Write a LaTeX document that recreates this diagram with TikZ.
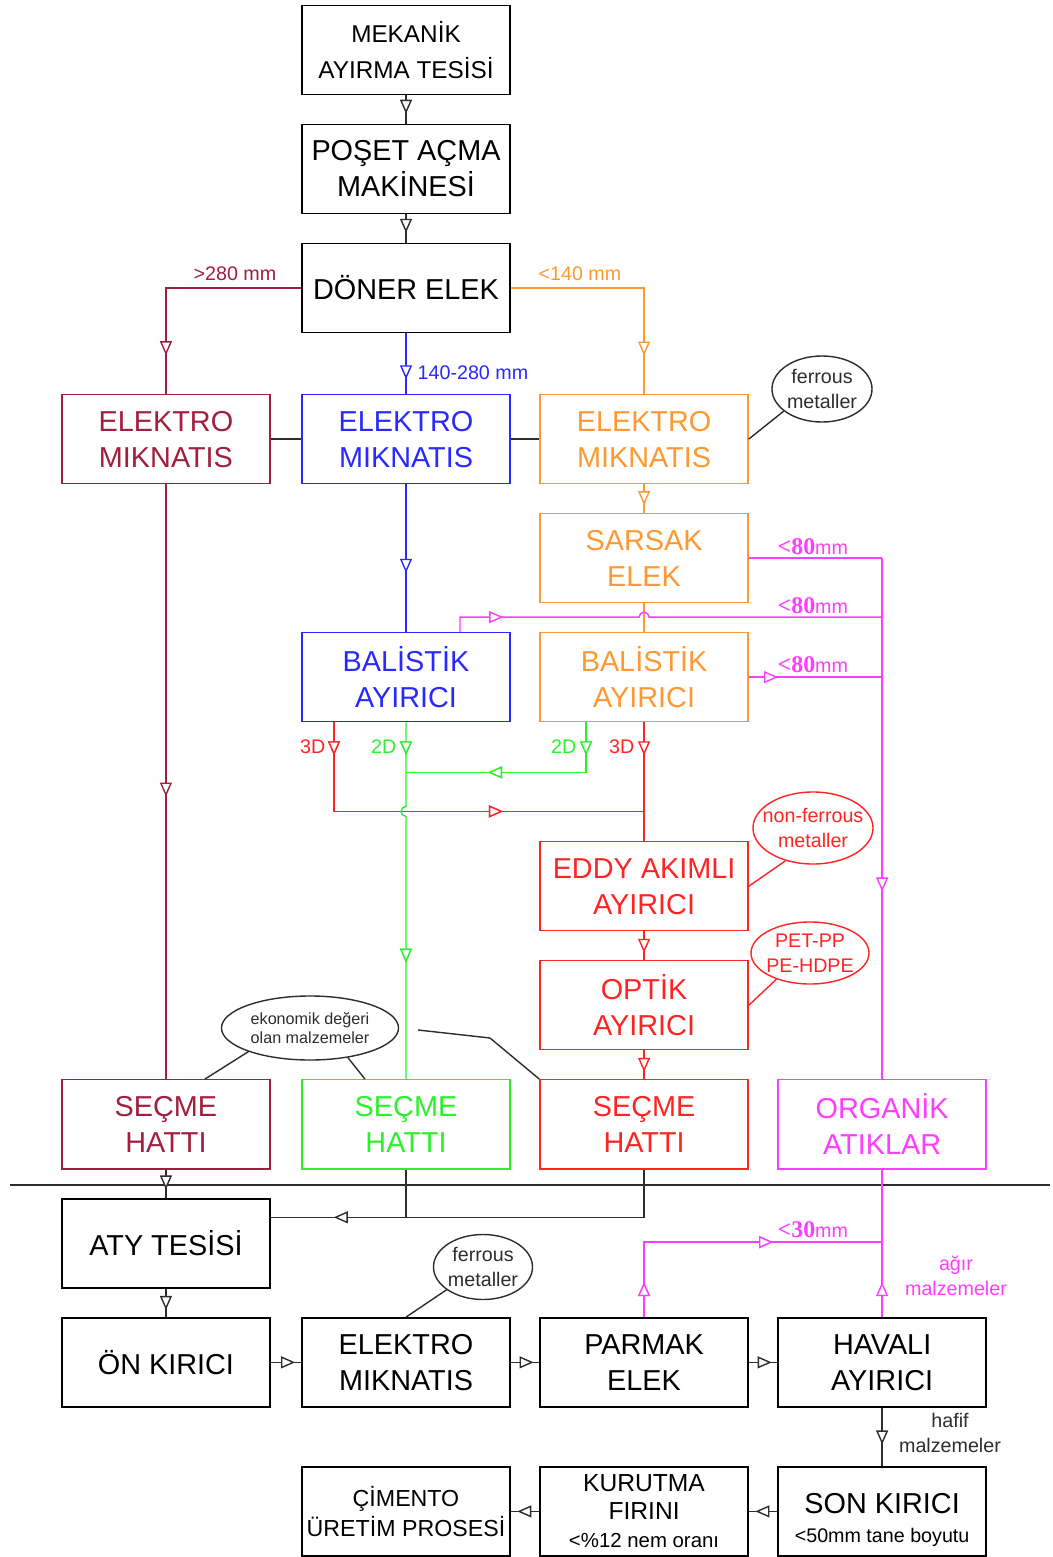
\documentclass[tikz,border=0pt]{standalone}
\usepackage{fontspec}
\setmainfont{Liberation Sans}
\newfontfamily\numfont{Liberation Serif}
\usetikzlibrary{positioning,shapes.geometric,arrows.meta,decorations.markings,calc}

\definecolor{crim}{RGB}{162,30,62}
\definecolor{ablue}{RGB}{40,40,255}
\definecolor{aorange}{RGB}{255,152,50}
\definecolor{amag}{RGB}{255,60,255}
\definecolor{agreen}{RGB}{45,240,45}
\definecolor{ared}{RGB}{255,35,35}
\definecolor{aline}{RGB}{45,45,45}

\newcommand\txtbox{\fontsize{20.5}{25.6}\selectfont}
\newcommand\txtmid{\fontsize{17.3}{25}\selectfont}
\newcommand\txtlab{\fontsize{14}{17.5}\selectfont}
\newcommand\txteko{\fontsize{11.5}{14}\selectfont}
\newcommand\mmlab[1]{{\fontsize{17}{17}\numfont\bfseries <#1}{\txtlab mm}}

\tikzset{
  box/.style={draw, rectangle, minimum width=5.2cm, minimum height=2.225cm, align=center, font=\txtbox, line width=1pt, inner sep=2pt},
  callout/.style={draw, ellipse, inner sep=0pt, line width=1pt},
  lab/.style={font=\txtlab, inner sep=1pt},
  link/.style={line width=1pt},
  flow/.style={postaction={decorate}, decoration={markings, mark=at position #1 with {\arrow{Triangle[fill=white,length=10pt,width=8.5pt]}}}},
  flow/.default=0.7,
}

\begin{document}
\begin{tikzpicture}[x=0.025cm, y=-0.025cm, on grid, node distance=2.975cm and 5.95cm]
  \useasboundingbox (0,0) rectangle (1052,1557);

  % main line
  \node[box, font=\txtmid] (mek) at (406,50) {MEKANİK\\AYIRMA TESİSİ};
  \node[box, below=of mek] (poset) {POŞET AÇMA\\MAKİNESİ};
  \node[box, below=of poset] (doner) {DÖNER ELEK};
  \node[box, ablue, below=3.775cm of doner] (elm2) {ELEKTRO\\MIKNATIS};
  \node[box, crim, left=6cm of elm2] (elm1) {ELEKTRO\\MIKNATIS};
  \node[box, aorange, right=of elm2] (elm3) {ELEKTRO\\MIKNATIS};
  \node[box, aorange, below=of elm3] (sarsak) {SARSAK\\ELEK};
  \node[box, aorange, below=of sarsak] (bal3) {BALİSTİK\\AYIRICI};
  \node[box, ablue, left=of bal3] (bal2) {BALİSTİK\\AYIRICI};
  \node[box, ared, below=5.225cm of bal3] (eddy) {EDDY AKIMLI\\AYIRICI};
  \node[box, ared, below=of eddy] (optik) {OPTİK\\AYIRICI};
  \node[box, ared, below=of optik] (secme3) {SEÇME\\HATTI};
  \node[box, agreen, left=of secme3] (secme2) {SEÇME\\HATTI};
  \node[box, crim, left=6cm of secme2] (secme1) {SEÇME\\HATTI};
  \node[box, amag, right=of secme3] (organik) {ORGANİK\\ATIKLAR};

  % RDF line
  \node[box, below=of secme1] (aty) {ATY TESİSİ};
  \node[box, below=of aty] (onk) {ÖN KIRICI};
  \node[box, right=6cm of onk] (elm4) {ELEKTRO\\MIKNATIS};
  \node[box, right=of elm4] (parmak) {PARMAK\\ELEK};
  \node[box, right=of parmak] (havali) {HAVALI\\AYIRICI};
  \node[box, below=3.725cm of havali] (son) {\rule{0pt}{26pt}SON KIRICI\\[-5pt]{\txtlab <50mm tane boyutu}};
  \node[box, left=of son, font=\fontsize{17.5}{20}\selectfont] (kurutma) {KURUTMA\\FIRINI\\{\fontsize{14.5}{20}\selectfont <\%12 nem oranı}};
  \node[box, left=of kurutma, font=\fontsize{16.5}{21}\selectfont] (cimento) {ÇİMENTO\\ÜRETİM PROSESİ};

  % callouts
  \node[callout, aline, minimum width=2.5cm, minimum height=1.65cm,
        label={[lab, aline, align=center]center:{ferrous\\metaller}}] (fer1) at (822,389) {};
  \node[callout, ared, minimum width=3cm, minimum height=1.8cm,
        label={[lab, ared, align=center]center:{non-ferrous\\metaller}}] (nonfer) at (813,828) {};
  \node[callout, ared, minimum width=2.95cm, minimum height=1.55cm,
        label={[lab, ared, align=center]center:{PET-PP\\PE-HDPE}}] (petpp) at (810,953) {};
  \node[callout, aline, minimum width=4.425cm, minimum height=1.6cm,
        label={[font=\txteko, inner sep=1pt, aline, align=center]center:{ekonomik değeri\\olan malzemeler}}] (eko) at (310,1028) {};
  \node[callout, aline, minimum width=2.475cm, minimum height=1.625cm,
        label={[lab, aline, align=center]center:{ferrous\\metaller}}] (fer2) at (483,1267) {};

  % labels
  \node[lab, crim] (l280) at (235,274) {>280 mm};
  \node[lab, aorange] (l140) at (580,274) {<140 mm};
  \node[lab, ablue, anchor=west] (lmid) at (416,373) {140-280 mm};
  \node[amag, inner sep=1pt, anchor=west] (l80a) at (776,547) {\mmlab{80}};
  \node[amag, inner sep=1pt, anchor=west] (l80b) at (776,606) {\mmlab{80}};
  \node[amag, inner sep=1pt, anchor=west] (l80c) at (776,665) {\mmlab{80}};
  \node[amag, inner sep=1pt, anchor=west] (l30) at (776,1230) {\mmlab{30}};
  \node[lab, ared, anchor=east] (l3da) at (327,747) {3D};
  \node[lab, agreen, anchor=east] (l2da) at (398,747) {2D};
  \node[lab, agreen, anchor=east] (l2db) at (578,747) {2D};
  \node[lab, ared, anchor=east] (l3db) at (636,747) {3D};
  \node[lab, amag, align=center] (lagir) at (956,1276) {ağır\\malzemeler};
  \node[lab, aline, align=center] (lhafif) at (950,1433) {hafif\\malzemeler};

  % helper points
  \coordinate (mj1) at (organik.north |- sarsak.east);
  \coordinate (mj2) at ($(mj1)+(0,59)$);
  \coordinate (mj3) at (organik.north |- bal3.east);
  \coordinate (m2a) at ([xshift=1.35cm]bal2.north);
  \coordinate (r2a) at ([xshift=-1.8cm]bal2.south);
  \coordinate (g3a) at ([xshift=-1.45cm]bal3.south);
  \coordinate (rj) at ($(bal3.south)+(0,89)$);
  \coordinate (gj) at ($(bal2.south)+(0,50)$);
  \coordinate (atyin) at ([yshift=0.65cm]aty.east);
  \coordinate (pc) at ($(parmak.north)+(0,-75)$);
  \coordinate (pj) at (havali.north |- pc);
  \coordinate (ekotail) at (418,1030);

  % connectors
  \draw[link, aline, flow=0.65] (mek) -- (poset);
  \draw[link, aline, flow=0.65] (poset) -- (doner);
  \draw[link, crim, flow=0.84] (doner.west) -| (elm1.north);
  \draw[link, aorange, flow=0.84] (doner.east) -| (elm3.north);
  \draw[link, ablue, flow=0.76] (doner) -- (elm2);
  \draw[link, aline] (elm1) -- (elm2);
  \draw[link, aline] (elm2) -- (elm3);
  \draw[link, aorange, flow=0.73] (elm3) -- (sarsak);
  \draw[link, crim, flow=0.525] (elm1) -- (secme1);
  \draw[link, ablue, flow=0.6] (elm2) -- (bal2);
  \draw[link, aorange] (sarsak) -- (bal3);

  \draw[link, amag] (sarsak.east) -- (mj1);
  \draw[link, amag, flow=0.64] (mj1) -- (organik.north);
  \draw[link, amag, flow=0.22] (bal3.east) -- (mj3);
  \draw[link, amag, flow=1.45cm] (m2a) |- ($(sarsak.south |- mj2)+(-5,0)$)
        arc[start angle=180, end angle=0, radius=0.125cm] -- (mj2);

  \draw[link, ared, flow=0.825cm, flow=6.45cm] (r2a) |- (rj);
  \draw[link, agreen, flow=0.825cm, flow=3.7cm] (g3a) |- (gj);
  \draw[link, agreen, flow=0.825cm, flow=6.15cm] (bal2.south) -- ($(bal2.south)+(0,84)$)
        arc[start angle=90, end angle=270, radius=0.125cm] -- (secme2.north);
  \draw[link, ared, flow=0.825cm] (bal3) -- (eddy);
  \draw[link, ared, flow=0.75] (eddy) -- (optik);
  \draw[link, ared, flow=0.75] (optik) -- (secme3);

  \draw[link, aline] (fer1.210) -- (elm3.east);
  \draw[link, ared] (nonfer.230) -- (eddy.east);
  \draw[link, ared] (petpp.218) -- (optik.east);
  \draw[link, aline] (eko.201) -- ([xshift=0.975cm]secme1.north);
  \draw[link, aline] (eko.322) -- ([xshift=-1.025cm]secme2.north);
  \draw[link, aline] (ekotail) -- (490,1038) -- (secme3.north west);
  \draw[link, aline] (fer2.212) -- (elm4.north);

  % divider
  \draw[link, aline] (10,1185) -- (1050,1185);

  \draw[link, aline, flow=0.7] (secme1) -- (aty);
  \draw[link, aline, flow=8.95cm] (secme3.south) |- (atyin);
  \draw[link, aline] (secme2.south) -- (secme2.south |- atyin);
  \draw[link, aline, flow=0.75] (aty) -- (onk);
  \draw[link, aline, flow=0.8] (onk) -- (elm4);
  \draw[link, aline, flow=0.8] (elm4) -- (parmak);
  \draw[link, aline, flow=0.8] (parmak) -- (havali);
  \draw[link, aline, flow=0.63] (havali) -- (son);
  \draw[link, aline, flow=0.77] (son) -- (kurutma);
  \draw[link, aline, flow=0.77] (kurutma) -- (cimento);

  \draw[link, amag, flow=0.875cm, flow=5.1cm] (parmak.north) |- (pj);
  \draw[link, amag, flow=0.875cm] (havali.north) -- (organik.south);
\end{tikzpicture}
\end{document}
